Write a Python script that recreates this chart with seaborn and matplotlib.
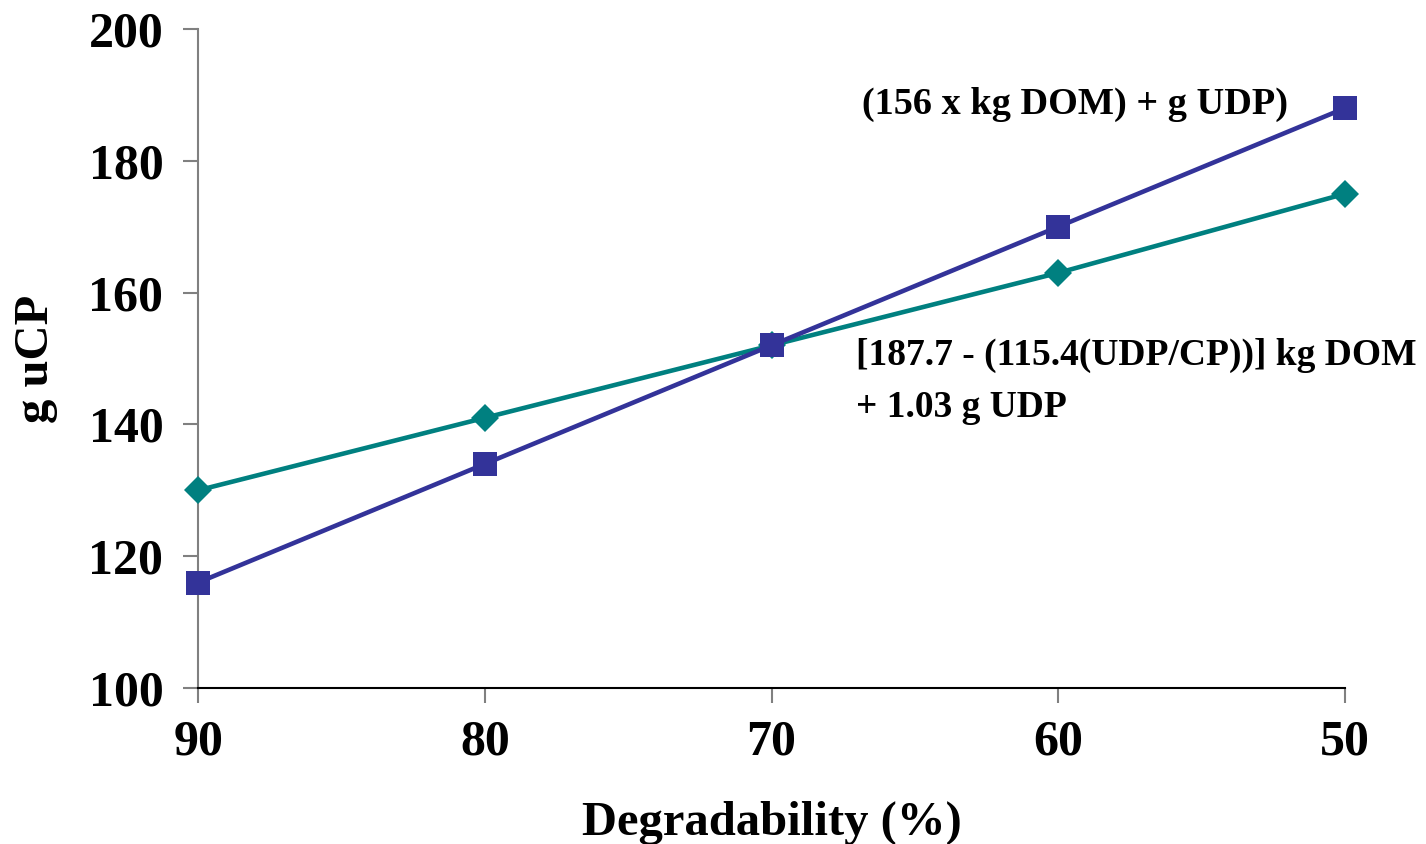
import pandas as pd
import numpy as np
import matplotlib
matplotlib.use("Agg")
import matplotlib.pyplot as plt
import seaborn as sns

degradability = [90, 80, 70, 60, 50]
nrc_model = [130, 141, 152, 163, 175]      # teal diamonds
simple_model = [116, 134, 152, 170, 188]   # blue squares

label_simple = "(156 x kg DOM) + g UDP)"
label_nrc_1 = "[187.7 - (115.4(UDP/CP))] kg DOM"
label_nrc_2 = "+ 1.03 g UDP"

sns.set_style("white")
plt.rcParams['font.family'] = ['Liberation Serif', 'DejaVu Serif']
plt.rcParams['font.weight'] = 'bold'
plt.rcParams['text.color'] = 'black'
plt.rcParams['axes.labelcolor'] = 'black'
plt.rcParams['xtick.color'] = 'black'
plt.rcParams['ytick.color'] = 'black'

df = pd.DataFrame({"deg": degradability, "nrc": nrc_model, "simple": simple_model})

fig = plt.figure(figsize=(14.26, 8.44), dpi=100)
ax = fig.add_axes([0.1389, 0.1848, 0.9432 - 0.1389, 0.9656 - 0.1848])

sns.lineplot(data=df, x="deg", y="nrc", ax=ax, color="#008080", linewidth=3.3,
             marker="D", markersize=14, markeredgewidth=0, clip_on=False, zorder=3)
sns.lineplot(data=df, x="deg", y="simple", ax=ax, color="#333399", linewidth=3.3,
             marker="s", markersize=17, markeredgewidth=0, clip_on=False, zorder=4)

ax.set_xlim(90, 50)
ax.set_ylim(100, 200)
ax.set_xticks(degradability)
ax.set_yticks(np.arange(100, 201, 20))

for s in ["top", "right"]:
    ax.spines[s].set_visible(False)
ax.spines["left"].set_color("#808080")
ax.spines["left"].set_linewidth(1.5)
ax.spines["bottom"].set_color("black")
ax.spines["bottom"].set_linewidth(1.5)

ax.tick_params(axis="both", direction="out", length=11, width=1.5, color="#808080",
               labelsize=36, left=True, bottom=True)
ax.tick_params(axis="y", pad=14, labelcolor="black")
ax.tick_params(axis="x", pad=12, labelcolor="black")
for lab in ax.get_xticklabels() + ax.get_yticklabels():
    lab.set_fontweight("bold")

ax.set_xlabel("Degradability (%)", fontsize=35, fontweight="bold", labelpad=25)
ax.set_ylabel("g uCP", fontsize=35, fontweight="bold", labelpad=22)

ax.text(66.84, 188.6, label_simple, fontsize=27.5, fontweight="bold", ha="left", va="center")
ax.text(67.05, 150.5, label_nrc_1, fontsize=27, fontweight="bold", ha="left", va="center")
ax.text(67.05, 142.6, label_nrc_2, fontsize=27, fontweight="bold", ha="left", va="center")

fig.savefig("out.png", dpi=100)
